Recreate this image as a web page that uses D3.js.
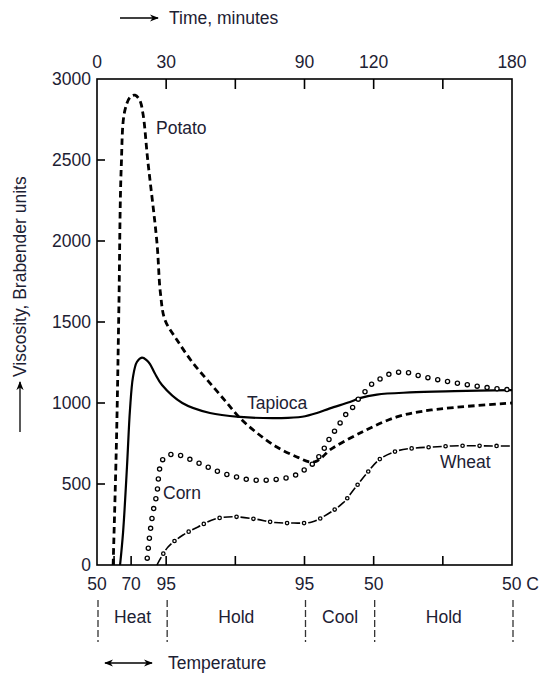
<!DOCTYPE html>
<html>
<head>
<meta charset="utf-8">
<script src="https://cdn.jsdelivr.net/npm/d3@7"></script>
<style>
	body { margin: 0; background: #fff; }
	text { font-family: "Liberation Sans", Arial, sans-serif; fill: #1d2133; font-size: 17.5px; }
	.ax { stroke: #000; stroke-width: 1.6; fill: none; }
</style>
</head>
<body>
<svg id="chart" width="539" height="675"></svg>
<script>
// viscosity (Brabender units) against time in minutes
var potato = [
	[7, 0], [8.5, 800], [9.5, 1600], [10.5, 2450], [12, 2800], [14.5, 2890], [16.5, 2900],
	[18.5, 2870], [20, 2780], [22, 2500], [26, 1990], [27.5, 1680], [29.5, 1512],
	[34.7, 1389], [41.6, 1247], [49, 1123], [56.4, 1000], [62, 907], [69.4, 815],
	[78, 728], [86.7, 667], [92.4, 636], [95, 640], [98, 670], [101, 710],
	[115, 821], [130, 914], [145, 957], [180, 1000]
];
var tapioca = [
	[10, 0], [11.3, 200], [13, 605], [14.3, 957], [15.6, 1160], [17.3, 1253], [19.5, 1280],
	[21.5, 1265], [23, 1240], [25, 1185], [28.2, 1111], [37, 1000], [49, 938],
	[62, 914], [80, 907], [89, 915], [95.4, 938], [101, 967],
	[109.7, 1006], [114, 1030], [121.4, 1052], [135.7, 1065], [155, 1073], [180, 1080]
];
var corn = [
	[21.7, 30], [23, 198], [24.3, 327], [26, 444], [26.9, 568], [27.8, 630], [29.5, 667],
	[33.8, 685], [37.7, 667], [46, 617], [54.2, 568], [62.4, 537], [66.3, 525],
	[75, 525], [83.7, 543], [88, 568], [91, 599], [94.5, 636], [96.7, 679], [98.9, 728],
	[101, 784], [104, 846], [108.4, 938], [111, 975], [114, 1037], [117, 1080],
	[119.7, 1123], [123.6, 1154], [127, 1179], [131.3, 1191], [135.7, 1185],
	[140, 1167], [144.4, 1154], [153, 1130], [161.7, 1111], [170.4, 1093], [180, 1080]
];
var wheat = [
	[26, 0], [30.8, 111], [37.3, 185], [43.8, 235], [51.2, 284], [59, 298], [68.5, 284],
	[77.2, 262], [85, 259], [93.2, 265], [100.1, 315], [106.7, 383], [111.9, 475],
	[117.1, 568], [122.7, 654], [130.1, 704], [137.9, 722], [145.7, 728], [153.9, 735],
	[163, 736], [171.7, 735], [180, 735]
];

var viscTicks = [0, 500, 1000, 1500, 2000, 2500, 3000];
var timeTicks = [0, 30, 60, 90, 120, 150, 180];
var timeLabels = [0, 30, 90, 120, 180];
// temperature marks on the bottom axis, placed at their time
var tempMarks = [
	{ t: 0, label: "50" }, { t: 7.4, label: "" }, { t: 14.8, label: "70" },
	{ t: 30, label: "95" }, { t: 60, label: "" }, { t: 90, label: "95" },
	{ t: 120, label: "50" }, { t: 150, label: "" }, { t: 180, label: "50 C" }
];
var phaseBounds = [0, 30, 90, 120, 180];
var phases = ["Heat", "Hold", "Cool", "Hold"];

var svg = d3.select("#chart");

var x0 = 97, x1 = 512, y0 = 565, y1 = 79;

var x = d3.scaleLinear().domain([0, 180]).range([x0, x1]);
var y = d3.scaleLinear().domain([0, 3000]).range([y0, y1]);

// arrow heads
var defs = svg.append("defs");
defs.append("marker")
	.attr("id", "head")
	.attr("viewBox", "0 0 10 10")
	.attr("refX", 9)
	.attr("refY", 5)
	.attr("markerWidth", 9)
	.attr("markerHeight", 9)
	.attr("markerUnits", "userSpaceOnUse")
	.attr("orient", "auto-start-reverse")
	.append("path")
	.attr("d", "M0,1 L10,5 L0,9 L3,5 Z")
	.attr("fill", "#000");

// frame
svg.append("rect")
	.attr("class", "ax")
	.attr("x", x0)
	.attr("y", y1)
	.attr("width", x1 - x0)
	.attr("height", y0 - y1);

// left ticks (inward)
svg.append("g")
	.selectAll("line")
	.data(viscTicks.filter(d => d > 0 && d < 3000))
	.enter()
	.append("line")
	.attr("class", "ax")
	.attr("x1", x0)
	.attr("x2", x0 + 8)
	.attr("y1", d => y(d))
	.attr("y2", d => y(d));

svg.append("g")
	.selectAll("text")
	.data(viscTicks)
	.enter()
	.append("text")
	.attr("x", x0 - 6)
	.attr("y", d => y(d) + 6)
	.attr("text-anchor", "end")
	.text(d => d);

// top ticks (pointing down)
svg.append("g")
	.selectAll("line")
	.data(timeTicks.filter(d => d > 0 && d < 180))
	.enter()
	.append("line")
	.attr("class", "ax")
	.attr("x1", d => x(d))
	.attr("x2", d => x(d))
	.attr("y1", y1)
	.attr("y2", y1 + 10);

svg.append("g")
	.selectAll("text")
	.data(timeLabels)
	.enter()
	.append("text")
	.attr("x", d => x(d))
	.attr("y", 68)
	.attr("text-anchor", "middle")
	.text(d => d);

// bottom ticks (pointing up)
svg.append("g")
	.selectAll("line")
	.data(tempMarks.filter(d => d.t > 0 && d.t < 180))
	.enter()
	.append("line")
	.attr("class", "ax")
	.attr("x1", d => x(d.t))
	.attr("x2", d => x(d.t))
	.attr("y1", y0)
	.attr("y2", y0 - 9);

svg.append("g")
	.selectAll("text")
	.data(tempMarks.filter(d => d.label))
	.enter()
	.append("text")
	.attr("x", d => x(d.t) - (d.label == "50 C" ? 10 : 0))
	.attr("y", 590)
	.attr("text-anchor", d => (d.label == "50 C" ? "start" : "middle"))
	.text(d => d.label);

// phase separators and names
svg.append("g")
	.selectAll("line")
	.data(phaseBounds)
	.enter()
	.append("line")
	.attr("x1", d => x(d) + 1)
	.attr("x2", d => x(d) + 1)
	.attr("y1", 600)
	.attr("y2", 642)
	.attr("stroke", "#333")
	.attr("stroke-width", 1.3)
	.attr("stroke-dasharray", "7,3");

svg.append("g")
	.selectAll("text")
	.data(phases)
	.enter()
	.append("text")
	.attr("x", (d, i) => (x(phaseBounds[i]) + x(phaseBounds[i + 1])) / 2 + 1)
	.attr("y", 623)
	.attr("text-anchor", "middle")
	.text(d => d);

// axis titles with arrows
svg.append("line")
	.attr("x1", 120).attr("x2", 158)
	.attr("y1", 18).attr("y2", 18)
	.attr("stroke", "#000").attr("stroke-width", 1.3)
	.attr("marker-end", "url(#head)");
svg.append("text")
	.attr("x", 169).attr("y", 24)
	.text("Time, minutes");

svg.append("line")
	.attr("x1", 105).attr("x2", 152)
	.attr("y1", 663).attr("y2", 663)
	.attr("stroke", "#000").attr("stroke-width", 1.3)
	.attr("marker-start", "url(#head)")
	.attr("marker-end", "url(#head)");
svg.append("text")
	.attr("x", 168).attr("y", 669)
	.text("Temperature");

svg.append("line")
	.attr("x1", 20).attr("x2", 20)
	.attr("y1", 432).attr("y2", 382)
	.attr("stroke", "#000").attr("stroke-width", 1.3)
	.attr("marker-end", "url(#head)");
svg.append("text")
	.attr("transform", "translate(26,377) rotate(-90)")
	.text("Viscosity, Brabender units");

// curves
var lineG = svg.append("g").attr("fill", "none").attr("stroke", "#000");

// catmull-rom copes with the near-vertical rises
var smooth = d3.line()
	.x(d => x(d[0]))
	.y(d => y(d[1]))
	.curve(d3.curveCatmullRom.alpha(0.5));

lineG.append("path")
	.datum(potato)
	.attr("d", smooth)
	.attr("stroke-width", 2.8)
	.attr("stroke-dasharray", "6.5,4");

lineG.append("path")
	.datum(tapioca)
	.attr("d", smooth)
	.attr("stroke-width", 2.2);

// wheat: dash with small open circle between
var wheatPath = lineG.append("path")
	.datum(wheat)
	.attr("d", smooth)
	.attr("stroke-width", 1.6)
	.attr("stroke-dasharray", "9,8");

var cornPath = lineG.append("path")
	.datum(corn)
	.attr("d", smooth)
	.attr("stroke", "none");

// small open circles sampled along a path
function beadsAlong(path, step, offset, r) {
	var node = path.node();
	var len = node.getTotalLength();
	var pts = d3.range(offset, len, step).map(function(l) {
		var p = node.getPointAtLength(l);
		return [p.x, p.y];
	});
	svg.append("g")
		.selectAll("circle")
		.data(pts)
		.enter()
		.append("circle")
		.attr("cx", d => d[0])
		.attr("cy", d => d[1])
		.attr("r", r)
		.attr("fill", "#fff")
		.attr("stroke", "#000")
		.attr("stroke-width", 1.3);
}

beadsAlong(cornPath, 10, 2, 2.1);
beadsAlong(wheatPath, 17, 13, 1.7);

// curve labels
var labels = [
	{ name: "Potato", px: 156, py: 134 },
	{ name: "Tapioca", px: 247, py: 409 },
	{ name: "Corn", px: 163, py: 499 },
	{ name: "Wheat", px: 440, py: 468 }
];
svg.append("g")
	.selectAll("text")
	.data(labels)
	.enter()
	.append("text")
	.attr("x", d => d.px)
	.attr("y", d => d.py)
	.text(d => d.name);
</script>
</body>
</html>
